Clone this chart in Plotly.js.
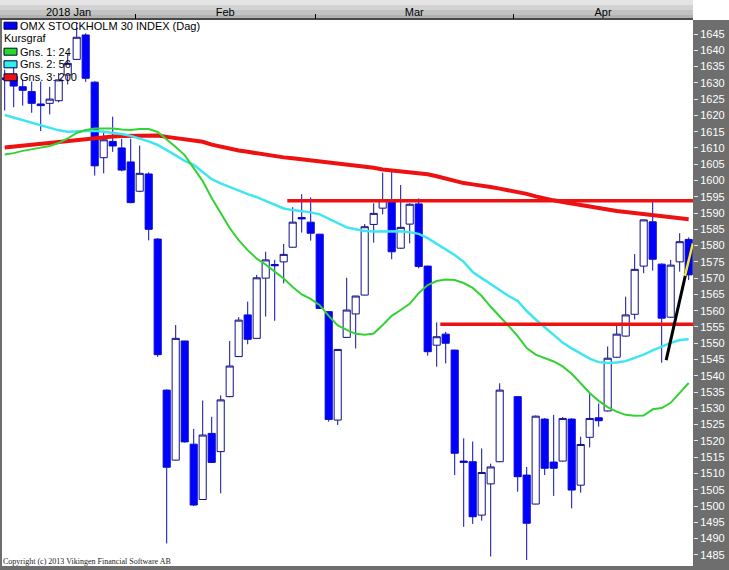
<!DOCTYPE html>
<html><head><meta charset="utf-8">
<script src="https://cdn.plot.ly/plotly-3.0.1.min.js"></script>
<style>html,body{margin:0;padding:0;background:#fff;}#chart{width:729px;height:570px;}</style>
</head><body><div id="chart"></div>
<script>
// ---- data (index = trading-day slot; slot 56 is an empty holiday slot) ----
const openP = [1631.5,1632,1628.8,1627.3,1623.5,1623.7,1624.5,1632.4,1637.2,1644.7,
1630.2,1607,1612,1610,1605.7,1596.7,1602,1582,1535.6,1514.1,
1550.7,1519,1502,1522.3,1516.7,1533.6,1545.9,1558.7,1551.5,1570,
1574.2,1575,1579.5,1588.6,1587.2,1583.5,1559.7,1526.4,1551.8,1559,
1564.8,1586.5,1591.5,1594,1579.2,1586.6,1592.8,1573.7,1549.4,1552.8,
1547.9,1513.8,1513.6,1497.2,1506.8,1513.6,null,1533.6,1509.5,1500.6,
1526.7,1513.5,1513.8,1526.7,1506.4,1521.1,1527.1,1529.2,1545.7,1552.2,
1558.9,1573.7,1587.3,1574.3,1558,1575,1581.9];
const highP = [1634,1635,1631,1630.4,1630.4,1628.8,1633,1639,1648.5,1645.2,
1630.5,1615.3,1619.6,1612.8,1612.8,1610.7,1602.5,1582.3,1535.8,1555.6,
1550.8,1523.7,1532.4,1527.4,1534,1550.7,1558,1562.8,1571,1578.1,
1575.6,1580.5,1591.8,1595.8,1594.8,1583.6,1559.8,1548.2,1570.1,1564.6,
1586.6,1593,1602.4,1603.4,1598.6,1593,1594.5,1573.8,1556.4,1553.5,
1548,1520.8,1519.8,1517.7,1513,1537.7,null,1533.7,1512,1527.8,
1527,1528,1527.3,1527,1521.3,1534.4,1531.5,1549,1555.5,1564.3,
1577.4,1588,1593.5,1574.5,1575.6,1583.8,1582.5];
const lowP = [1621.5,1622.5,1623,1620.8,1615.2,1620.3,1624,1629.5,1637,1630.3,
1601.5,1602.2,1608.8,1602.8,1593,1596.4,1581.6,1545.8,1488.5,1514,
1519.5,1500,1502,1513.2,1503.9,1533.4,1545.8,1549.7,1551.4,1558.2,
1556.9,1568.4,1579.4,1584,1581.5,1560.5,1525.9,1524.9,1551.7,1548.4,
1564.7,1580.9,1589.6,1575.8,1579,1580.7,1573,1546.2,1542.8,1543.8,
1509.5,1493.6,1494.5,1495.5,1484.5,1513.5,null,1504.4,1483.4,1500.5,
1509.5,1503.1,1513.7,1499.3,1504.1,1518,1524.4,1529,1545.5,1552,
1557.3,1571.5,1572.3,1544,1557.8,1572,1569.4];
const closeP = [1631,1629,1627.7,1623.7,1623,1625,1630.9,1636,1644,1631.4,
1604.5,1612.5,1610.6,1603.2,1593.2,1602.2,1585,1546.5,1511.9,1551.5,
1519.7,1500.3,1521.8,1513.4,1532.6,1543,1557.1,1551.2,1570.1,1575.6,
1573.8,1577.3,1587.2,1588.2,1583.8,1560.7,1526.6,1548.1,1560.2,1564.5,
1585.8,1589.9,1594,1578.1,1585.6,1592.7,1573.6,1547.4,1552,1550,
1516.2,1513.4,1496.7,1510.3,1512,1535.6,null,1509,1494.7,1527.6,
1511.6,1511.6,1526.9,1504.9,1518.9,1526.9,1526.2,1545.4,1552.8,1558.7,
1572.7,1587.9,1575.8,1557.7,1574,1581.2,1571];
const ma24 = [1608.0,1608.4,1609.1,1609.7,1610.1,1610.6,1611.5,1612.9,1614.6,1615.5,
1616.0,1616.0,1616.0,1615.7,1615.5,1615.8,1615.8,1614.9,1612.7,1610.3,
1607.8,1603.8,1599.8,1594.6,1590.0,1585.4,1581.7,1578.6,1576.0,1574.2,
1572.0,1569.9,1567.3,1565.0,1563.6,1561.7,1558.4,1555.5,1554.1,1552.9,
1552.6,1553.0,1555.6,1558.4,1560.2,1562.1,1565.4,1567.9,1569.1,1569.6,
1569.4,1568.5,1567.0,1564.5,1561.2,1558.4,1555.3,1552.2,1548.5,1546.5,
1545.5,1544.4,1542.9,1540.6,1537.7,1534.7,1532.3,1530.4,1529.0,1528.0,
1527.7,1527.8,1529.7,1530.1,1531.7,1534.6,1537.8];
const ma56 = [1620.1,1619.3,1618.6,1617.8,1617.0,1616.1,1615.4,1615.0,1615.1,1615.2,
1615.3,1615.0,1614.7,1614.3,1613.7,1612.9,1612.0,1610.9,1609.4,1607.7,
1606.0,1604.8,1602.6,1600.4,1599.1,1598.0,1596.8,1595.8,1594.9,1593.7,
1592.5,1591.4,1590.9,1590.6,1590.2,1589.6,1588.2,1586.8,1585.6,1585.0,
1584.5,1584.3,1584.3,1584.4,1584.4,1584.1,1583.6,1582.3,1580.6,1579.0,
1577.1,1575.0,1571.9,1570.0,1568.2,1566.4,1564.5,1563.0,1559.9,1557.3,
1555.0,1552.5,1550.2,1548.4,1546.9,1545.3,1544.2,1543.9,1544.1,1544.5,
1545.5,1546.5,1547.8,1549.0,1550.1,1551.0,1551.2];
const ma200 = [1610.1,1610.4,1610.6,1610.9,1611.2,1611.5,1611.9,1612.2,1612.5,1612.8,
1613.2,1613.4,1613.5,1613.7,1613.8,1613.9,1614.0,1613.8,1613.4,1613.1,
1612.7,1612.4,1611.9,1611.0,1610.3,1609.7,1609.2,1608.8,1608.3,1607.9,
1607.4,1607.1,1606.8,1606.5,1606.2,1605.8,1605.4,1605.1,1604.9,1604.5,
1604.2,1603.9,1603.4,1603.1,1602.8,1602.5,1602.3,1601.9,1601.3,1600.6,
1599.8,1599.2,1598.8,1598.5,1598.0,1597.5,1597.0,1596.6,1595.9,1595.1,
1594.4,1593.9,1593.4,1592.9,1592.5,1592.0,1591.5,1591.0,1590.6,1590.3,
1590.0,1589.5,1589.1,1588.8,1588.5,1588.2,1588.1];
const hLevels = [1593.8, 1555.8];
const hStarts = [31.4, 48.4];
const trendX = [73.5, 76.44];
const trendY = [1544.8, 1580.7];
const trendHiX = [75.59, 76.46];
const trendHiY = [1570.7, 1580.7];
const monthLabels = ['2018 Jan', 'Feb', 'Mar', 'Apr'];
const monthBounds = [14.5, 34.5, 56.5];
const legendNames = ['OMX STOCKHOLM 30 INDEX (Dag)', 'Kursgraf', 'Gns. 1: 24', 'Gns. 2: 56', 'Gns. 3: 200'];
const copyright = 'Copyright (c) 2013 Vikingen Financial Software AB';

// ---- build ----
const xRange = [-0.3, 76.48];
const yRange = [1481.57, 1649.3];
const allIdx = ma24.map((_, i) => i);
const cIdx = allIdx.filter(i => openP[i] !== null);
const pick = arr => cIdx.map(i => arr[i]);

const edges = [xRange[0]].concat(monthBounds, [xRange[1]]);
const monthCenters = monthLabels.map((_, i) => (edges[i] + edges[i + 1]) / 2);

const FONT = 'Liberation Sans, Arial, sans-serif';
const traces = [
  {type: 'candlestick', x: cIdx, open: pick(openP), high: pick(highP), low: pick(lowP), close: pick(closeP),
   increasing: {line: {color: '#10108a', width: 1}, fillcolor: '#ffffff'},
   decreasing: {line: {color: '#0a0ad0', width: 1}, fillcolor: '#0000ff'},
   whiskerwidth: 0, hoverinfo: 'skip', showlegend: false},
  {type: 'scatter', mode: 'lines', x: allIdx, y: ma200, line: {color: '#ee1111', width: 4}, hoverinfo: 'skip', showlegend: false},
  {type: 'scatter', mode: 'lines', x: allIdx, y: ma56, line: {color: '#3ee6f0', width: 2.5}, hoverinfo: 'skip', showlegend: false},
  {type: 'scatter', mode: 'lines', x: allIdx, y: ma24, line: {color: '#33d233', width: 2}, hoverinfo: 'skip', showlegend: false}
];
hLevels.forEach((lv, i) => traces.push({type: 'scatter', mode: 'lines', x: [hStarts[i], xRange[1]], y: [lv, lv],
  line: {color: '#ee1111', width: 3.5}, hoverinfo: 'skip', showlegend: false}));
traces.push({type: 'scatter', mode: 'lines', x: trendX, y: trendY, line: {color: '#000000', width: 3}, hoverinfo: 'skip', showlegend: false});
traces.push({type: 'scatter', mode: 'lines', x: trendHiX, y: trendHiY, line: {color: '#f2e640', width: 2.5}, hoverinfo: 'skip', showlegend: false});

const W = 691, H = 546, L = 2, T = 20;
const px = v => (v - L) / W;
const py = v => 1 - (v - T) / H;

const shapes = [];
// top bar (gradient bands)
const bands = [['#e4e4e4', 0, 5], ['#d2d2d2', 5, 10], ['#c2c2c2', 10, 15], ['#b2b2b2', 15, 18], ['#4a4a4a', 18, 20]];
bands.forEach(b => shapes.push({type: 'rect', xref: 'paper', yref: 'paper', x0: px(0), x1: px(693), y0: py(b[2]), y1: py(b[1]),
  fillcolor: b[0], line: {width: 0}, layer: 'below'}));
shapes.push({type: 'rect', xref: 'paper', yref: 'paper', x0: px(693), x1: px(729), y0: py(20), y1: py(0),
  fillcolor: '#ffffff', line: {width: 0}, layer: 'below'});
// legend boxes
const boxColors = ['#0000ff', null, '#22dd22', '#33eeee', '#ee1111'];
const rowY = [25.7, 38.3, 51.7, 64.3, 77.3];
const annotations = [];
legendNames.forEach((name, i) => {
  if (boxColors[i]) shapes.push({type: 'rect', xref: 'paper', yref: 'paper', x0: px(4), x1: px(17), y0: py(rowY[i] + 3.5), y1: py(rowY[i] - 3.5),
    fillcolor: boxColors[i], line: {color: '#000040', width: 1}, layer: 'above'});
  annotations.push({xref: 'paper', yref: 'paper', x: px(boxColors[i] ? 19 : 3), y: py(rowY[i]), xanchor: 'left', yanchor: 'middle',
    text: name, showarrow: false, font: {family: FONT, size: 11, color: '#000'}, borderpad: 0});
});
annotations.push({xref: 'paper', yref: 'paper', x: px(2), y: py(561), xanchor: 'left', yanchor: 'middle', text: copyright,
  showarrow: false, font: {family: 'Liberation Serif, Times New Roman, serif', size: 8, color: '#222'}, borderpad: 0});

const layout = {
  width: 729, height: 570,
  margin: {l: L, r: 729 - L - W, t: T, b: 570 - T - H, pad: 0},
  paper_bgcolor: '#6e6e6e', plot_bgcolor: '#ffffff',
  font: {family: FONT, size: 11, color: '#000'},
  showlegend: false, boxgap: 0.12, boxgroupgap: 0.1,
  xaxis: {range: xRange, side: 'top', showgrid: false, zeroline: false, showline: false,
    tickmode: 'array', tickvals: monthCenters, ticktext: monthLabels, ticks: '',
    tickfont: {family: FONT, size: 11, color: '#000'}, ticklabelstandoff: 1,
    minor: {tickmode: 'array', tickvals: monthBounds, ticks: 'outside', ticklen: 5, tickwidth: 1, tickcolor: '#000', showgrid: false},
    rangeslider: {visible: false}, fixedrange: true},
  yaxis: {range: yRange, side: 'right', showgrid: false, zeroline: false, showline: false,
    tickmode: 'linear', tick0: 1485, dtick: 5, ticks: 'outside', ticklen: 4, tickwidth: 1, tickcolor: '#e6e6e6',
    tickfont: {family: FONT, size: 11, color: '#ffffff'}, fixedrange: true},
  shapes: shapes, annotations: annotations
};
Plotly.newPlot('chart', traces, layout, {staticPlot: true, displayModeBar: false});
</script></body></html>
